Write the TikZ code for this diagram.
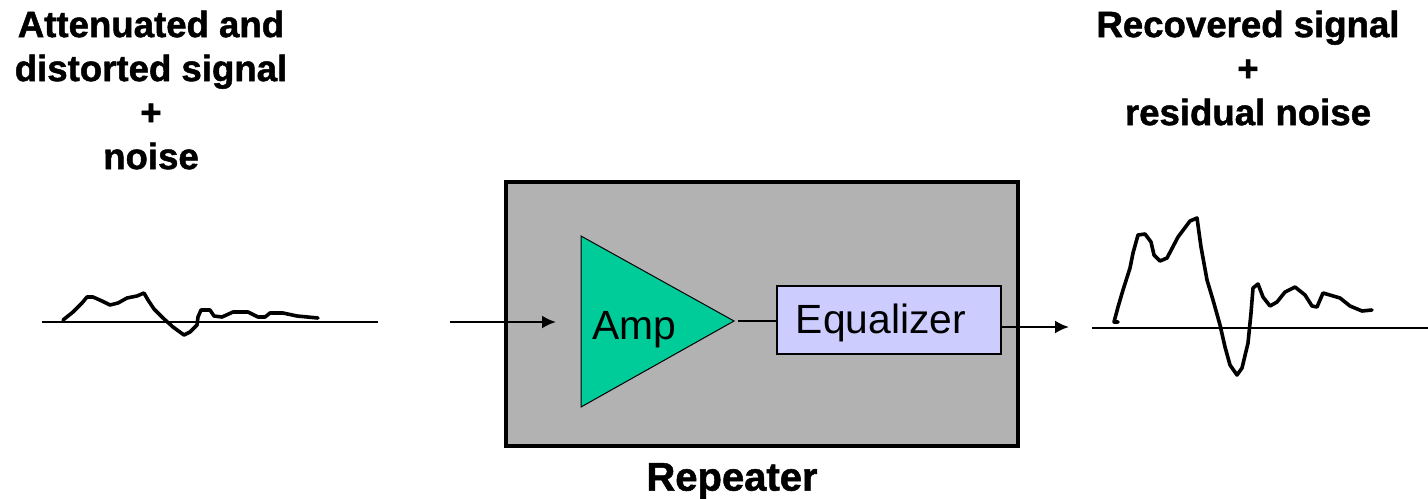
\documentclass[tikz,border=0pt]{standalone}
\usepackage{fontspec}
\setmainfont[BoldFeatures={FakeBold=1.3}]{Liberation Sans}
\usepackage{tikz}
\usetikzlibrary{arrows.meta}
\definecolor{BoxGray}{HTML}{B2B2B2}
\definecolor{AmpGreen}{HTML}{00CC99}
\definecolor{EqBlue}{HTML}{CCCCFF}
\tikzset{
	heading/.style={align=center, font=\fontsize{18.3}{22}\selectfont\bfseries},
	blocklabel/.style={font=\fontsize{20.4}{24}\selectfont},
	wave/.style={line width=1.8pt, line join=round, line cap=round},
	baseline/.style={line width=1.4pt},
	signal/.style={line width=1.2pt, -{Latex[length=7pt,width=6.5pt]}}
}

\begin{document}
\begin{tikzpicture}[x=0.5pt, y=-0.5pt]
	\useasboundingbox (0,0) rectangle (1428,498);

	% headings
	\node[heading] (inlabel) at (151,90) {Attenuated and\\distorted signal\\+\\noise};
	\node[heading] (outlabel) at (1248,68) {Recovered signal\\+\\residual noise};

	% repeater box
	\filldraw[fill=BoxGray, line width=2.2pt] (506,182) rectangle (1018,446);
	\node[font=\fontsize{20}{24}\selectfont\bfseries] (repeater) at (732,481) {Repeater};

	% amplifier
	\filldraw[fill=AmpGreen, line width=0.5pt, line join=miter] (581,236) -- (581,407) -- (734,321) -- cycle;
	\node[blocklabel] (amp) at (634,330) {Amp};

	% equalizer
	\node[draw, fill=EqBlue, line width=1pt, minimum width=112pt, minimum height=34pt, inner sep=0pt] (equalizer) at (888.5,320) {};
	\node[blocklabel] (eqlabel) at (881,323) {Equalizer};

	% connectors
	\coordinate (instart) at (450,322);
	\coordinate (inend) at (556,322);
	\coordinate (ampout) at (738,321);
	\coordinate (eqin) at (equalizer.west |- ampout);
	\coordinate (eqout) at (1001,327);
	\coordinate (outend) at (1069,327);
	\draw[signal] (instart) -- (inend);
	\draw[line width=1pt] (ampout) -- (eqin);
	\draw[signal] (eqout) -- (outend);

	% input waveform
	\coordinate (inleft) at (42,322);
	\coordinate (inright) at (378,322);
	\draw[baseline] (inleft) -- (inright);
	\draw[wave] (63,320) -- (73,312) -- (82,303) -- (87,297) -- (93,297) -- (102,301) -- (110,305) -- (118,303)
		-- (127,298) -- (137,296) -- (144,293) -- (148,300) -- (154,309) -- (163,318) -- (173,327) -- (184,335)
		-- (190,332) -- (197,325) -- (198,317) -- (201,310) -- (210,310) -- (214,316) -- (222,317) -- (233,312)
		-- (248,312) -- (258,317) -- (265,317) -- (270,313) -- (283,313) -- (297,316) -- (318,318);

	% output waveform
	\coordinate (outleft) at (1092,328);
	\coordinate (outright) at (1428,328);
	\draw[baseline] (outleft) -- (outright);
	\draw[wave] (1118,322) -- (1114,322) -- (1118,307) -- (1123,290) -- (1130,268) -- (1133,253) -- (1138,235) -- (1145,234)
		-- (1151,242) -- (1154,255) -- (1160,261) -- (1167,258) -- (1178,237) -- (1190,221) -- (1197,218) -- (1201,247)
		-- (1207,280) -- (1213,300) -- (1220,325) -- (1225,347) -- (1230,365) -- (1237,375) -- (1242,368) -- (1248,343)
		-- (1251,313) -- (1253,288) -- (1258,284) -- (1263,297) -- (1270,306) -- (1277,302) -- (1285,292) -- (1295,287)
		-- (1305,295) -- (1312,306) -- (1317,307) -- (1323,293) -- (1340,298) -- (1350,306) -- (1362,311) -- (1372,310);
\end{tikzpicture}
\end{document}
